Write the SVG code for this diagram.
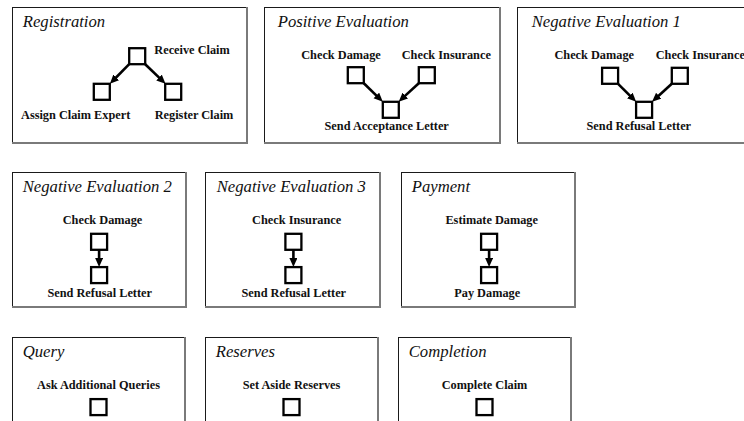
<svg xmlns="http://www.w3.org/2000/svg" width="744" height="421" viewBox="0 0 744 421">
  <style>
    .frame { fill: #fff; stroke: #1a1a1a; stroke-width: 1; }
    .shade { fill: none; stroke: #7a7a7a; stroke-width: 2; }
    .title { font-family: "Liberation Serif", "Times New Roman", serif; font-style: italic; font-size: 16.7px; fill: #111; }
    .lbl { font-family: "Liberation Serif", "Times New Roman", serif; font-weight: bold; font-size: 12.3px; fill: #111; }
    .mid { text-anchor: middle; }
    .task { fill: #fff; stroke: #000; stroke-width: 2.3; }
    .flow { stroke: #000; stroke-width: 2.6; fill: none; marker-end: url(#head); }
  </style>
  <defs>
    <marker id="head" markerUnits="userSpaceOnUse" markerWidth="10" markerHeight="9" refX="3" refY="4" orient="auto">
      <path d="M0,0 L9,4 L0,8 z" fill="#000"/>
    </marker>
  </defs>
  <rect width="744" height="421" fill="#fff"/>

  <!-- row 1 -->
  <g id="registration">
    <rect class="frame" x="12.5" y="7.5" width="234" height="135"/>
    <polyline class="shade" points="247,7 247,143 12,143"/>
    <text class="title" x="22.7" y="27">Registration</text>
    <rect class="task" x="129.2" y="48.2" width="16" height="16"/>
    <rect class="task" x="93.8" y="83.8" width="16" height="16"/>
    <rect class="task" x="165.2" y="83.8" width="16" height="16"/>
    <text class="lbl" x="154.3" y="54">Receive Claim</text>
    <text class="lbl" x="21" y="119">Assign Claim Expert</text>
    <text class="lbl" x="154.7" y="119">Register Claim</text>
  </g>

  <g id="positive-evaluation">
    <rect class="frame" x="264.5" y="7.5" width="235" height="135"/>
    <polyline class="shade" points="500,7 500,143 264,143"/>
    <text class="title" x="277.7" y="27">Positive Evaluation</text>
    <rect class="task" x="347.8" y="67.2" width="16" height="16"/>
    <rect class="task" x="418.8" y="67.2" width="16" height="16"/>
    <rect class="task" x="382.8" y="101.8" width="16" height="16"/>
    <text class="lbl mid" x="341" y="59">Check Damage</text>
    <text class="lbl mid" x="446.3" y="59">Check Insurance</text>
    <text class="lbl mid" x="386.7" y="130">Send Acceptance Letter</text>
  </g>

  <g id="negative-evaluation-1">
    <rect class="frame" x="517.5" y="7.5" width="240" height="135"/>
    <polyline class="shade" points="758,143 517,143"/>
    <text class="title" x="531.7" y="27">Negative Evaluation 1</text>
    <rect class="task" x="602.1" y="67.8" width="16" height="16"/>
    <rect class="task" x="671.8" y="67.8" width="16" height="16"/>
    <rect class="task" x="636.1" y="101.8" width="16" height="16"/>
    <text class="lbl mid" x="594.2" y="59">Check Damage</text>
    <text class="lbl" x="655.7" y="59">Check Insurance</text>
    <text class="lbl mid" x="638.8" y="130">Send Refusal Letter</text>
  </g>

  <!-- row 2 -->
  <g id="negative-evaluation-2">
    <rect class="frame" x="12.5" y="172.5" width="173" height="134"/>
    <polyline class="shade" points="186,172 186,307 12,307"/>
    <text class="title" x="22.7" y="192">Negative Evaluation 2</text>
    <rect class="task" x="91.1" y="233.8" width="16" height="16"/>
    <rect class="task" x="91.1" y="267.1" width="16" height="16"/>
    <text class="lbl mid" x="102.5" y="224">Check Damage</text>
    <text class="lbl mid" x="99.7" y="297">Send Refusal Letter</text>
  </g>

  <g id="negative-evaluation-3">
    <rect class="frame" x="205.5" y="172.5" width="174" height="134"/>
    <polyline class="shade" points="380,172 380,307 205,307"/>
    <text class="title" x="216.7" y="192">Negative Evaluation 3</text>
    <rect class="task" x="285.4" y="233.8" width="16" height="16"/>
    <rect class="task" x="285.4" y="267.1" width="16" height="16"/>
    <text class="lbl mid" x="296.7" y="224">Check Insurance</text>
    <text class="lbl mid" x="293.8" y="297">Send Refusal Letter</text>
  </g>

  <g id="payment">
    <rect class="frame" x="401.5" y="172.5" width="173" height="134"/>
    <polyline class="shade" points="575,172 575,307 401,307"/>
    <text class="title" x="411.7" y="192">Payment</text>
    <rect class="task" x="481.1" y="233.8" width="16" height="16"/>
    <rect class="task" x="481.1" y="267.1" width="16" height="16"/>
    <text class="lbl mid" x="491.7" y="224">Estimate Damage</text>
    <text class="lbl mid" x="487.2" y="297">Pay Damage</text>
  </g>

  <!-- row 3 -->
  <g id="query">
    <rect class="frame" x="12.5" y="337.5" width="172" height="100"/>
    <polyline class="shade" points="185,337 185,440"/>
    <text class="title" x="22.7" y="357">Query</text>
    <rect class="task" x="90.5" y="399.1" width="16" height="16"/>
    <text class="lbl mid" x="98.5" y="389">Ask Additional Queries</text>
  </g>

  <g id="reserves">
    <rect class="frame" x="205.5" y="337.5" width="172" height="100"/>
    <polyline class="shade" points="378,337 378,440"/>
    <text class="title" x="215.7" y="357">Reserves</text>
    <rect class="task" x="283.5" y="399.1" width="16" height="16"/>
    <text class="lbl mid" x="291.5" y="389">Set Aside Reserves</text>
  </g>

  <g id="completion">
    <rect class="frame" x="398.5" y="337.5" width="172" height="100"/>
    <polyline class="shade" points="571,337 571,440"/>
    <text class="title" x="408.7" y="357">Completion</text>
    <rect class="task" x="476.5" y="399.1" width="16" height="16"/>
    <text class="lbl mid" x="484.5" y="389">Complete Claim</text>
  </g>

  <!-- control flow between tasks; each line stops 6px short of the arrow tip -->
  <g id="connectors">
    <line class="flow" x1="129.2" y1="64.2" x2="114.1" y2="79.5"/>
    <line class="flow" x1="145.2" y1="64.2" x2="161.2" y2="79.6"/>
    <line class="flow" x1="363.8" y1="83.2" x2="378.5" y2="97.6"/>
    <line class="flow" x1="418.8" y1="83.2" x2="403.1" y2="97.6"/>
    <line class="flow" x1="618.1" y1="83.8" x2="631.9" y2="97.6"/>
    <line class="flow" x1="671.8" y1="83.8" x2="656.5" y2="97.7"/>
    <line class="flow" x1="99.1" y1="250" x2="99.1" y2="261.1"/>
    <line class="flow" x1="293.4" y1="250" x2="293.4" y2="261.1"/>
    <line class="flow" x1="489.1" y1="250" x2="489.1" y2="261.1"/>
  </g>
</svg>
